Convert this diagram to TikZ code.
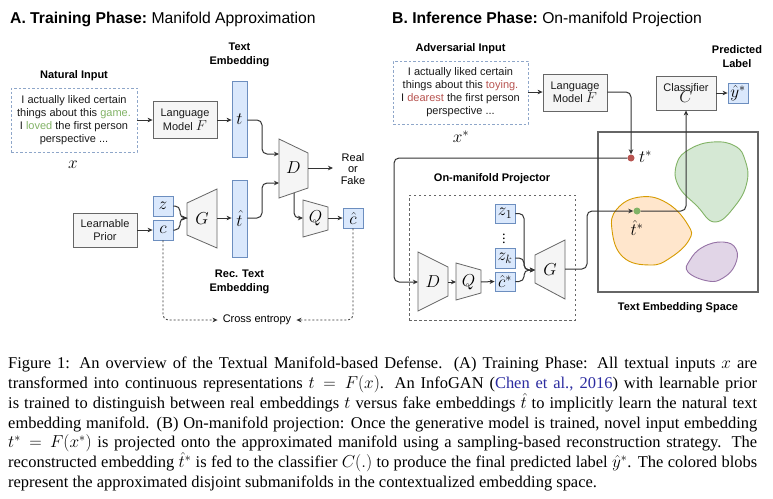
\documentclass[tikz,border=0pt]{standalone}
\usepackage{fontspec}
\setmainfont{Liberation Serif}
\newfontfamily\arialf{Liberation Sans}
\usetikzlibrary{arrows.meta}
\definecolor{grayd}{HTML}{666666}
\definecolor{grayf}{HTML}{F5F5F5}
\definecolor{blued}{HTML}{6C8EBF}
\definecolor{bluef}{HTML}{DAE8FC}
\definecolor{linec}{HTML}{333333}
\definecolor{txtc}{HTML}{1A1A1A}
\definecolor{dashb}{HTML}{8EA6C9}
\definecolor{goodg}{HTML}{82B366}
\definecolor{badr}{HTML}{B85450}
\definecolor{grf}{HTML}{D5E8D4}
\definecolor{orf}{HTML}{FFE6CC}
\definecolor{ord}{HTML}{D79B00}
\definecolor{puf}{HTML}{E1D5E7}
\definecolor{pud}{HTML}{9673A6}
\definecolor{citeblue}{HTML}{2B2BA0}
\begin{document}
\begin{tikzpicture}[x=1pt,y=-1pt,
  lbl/.style={font=\arialf\bfseries\fontsize{11}{14}\selectfont, align=center, inner sep=0},
  ttl/.style={font=\arialf\fontsize{15.7}{18}\selectfont, inner sep=0, anchor=west},
  txt/.style={font=\arialf\fontsize{11}{13}\selectfont, align=center, inner sep=0, text=txtc},
  inbox/.style={draw=dashb, line width=0.8pt, dash pattern=on 2.5pt off 2pt},
  gbox/.style={draw=grayd, fill=grayf, line width=0.8pt, inner sep=0, font=\arialf\fontsize{11}{13.5}\selectfont, align=center, text=txtc},
  bbox/.style={draw=blued, fill=bluef, line width=0.8pt, inner sep=0, font=\fontsize{17.28}{18}\selectfont},
  trap/.style={draw=grayd, fill=grayf, line width=0.8pt},
  mlbl/.style={inner sep=0, font=\fontsize{17.28}{18}\selectfont},
  conn/.style={draw=linec, line width=1pt, rounded corners=5pt},
  arr/.style={conn, -{Stealth[length=5pt,width=4.5pt,inset=1.5pt]}},
  darr/.style={draw=linec, line width=0.8pt, dash pattern=on 2pt off 2pt, rounded corners=5pt, -{Stealth[length=5pt,width=4.5pt,inset=1.5pt]}},
]
\useasboundingbox (0,0) rectangle (773,498);
\fill[white] (0,0) rectangle (773,498);

%%%%%%%%%%%%%%%% A
\node[ttl] (tA) at (10,19) {\bfseries A. Training Phase:\ \mdseries Manifold Approximation};
\node[lbl] (lTE) at (239.5,55) {Text\\Embedding};
\node[lbl] (lNI) at (74,76) {Natural Input};
\node[inbox, minimum width=126pt, minimum height=64pt, inner sep=0] (inA) at (74,120) {};
\node[txt] (inAt) at (74,120) {I actually liked certain\\things about this {\color{goodg}game.}\\I {\color{goodg}loved} the first person\\perspective ...};
\node[mlbl] (xA) at (73,165) {$x$};
\node[gbox, minimum width=64pt, minimum height=37pt] (LMA) at (185,120) {Language\\Model {\fontsize{14.4}{14}\selectfont$F$}};
\node[bbox, minimum width=15pt, minimum height=76pt] (tA) at (239.5,119) {$t$};
\node[bbox, minimum width=15pt, minimum height=77pt] (thA) at (239.5,218.5) {$\hat{t}$};
\node[lbl] (lRTE) at (239.5,282) {Rec. Text\\Embedding};
\node[gbox, minimum width=64pt, minimum height=34pt] (LP) at (105,230) {Learnable\\Prior};
\node[bbox, minimum width=20pt, minimum height=20pt] (zA) at (163,206) {$z$};
\node[bbox, minimum width=20pt, minimum height=20pt] (cA) at (163,230) {$c$};
\node[bbox, minimum width=20pt, minimum height=20pt] (chA) at (353,218) {$\hat{c}$};
% trapezoids
\draw[trap] (279,139) -- (308,153) -- (308,188) -- (279,198) -- cycle;
\node[mlbl] (DA) at (293.5,168) {$D$};
\draw[trap] (303,200) -- (328,207) -- (328,230) -- (303,237) -- cycle;
\node[mlbl] (QA) at (315.5,218.5) {$Q$};
\draw[trap] (187,203) -- (217,189) -- (217,248) -- (187,235) -- cycle;
\node[mlbl] (GA) at (202,218.5) {$G$};
\coordinate (DAin1) at (279,154);
\coordinate (DAin2) at (279,183);
\coordinate (DAout) at (308,168);
\coordinate (DAbot) at (294,193);
\coordinate (QAin) at (303,218);
\coordinate (QAout) at (328,218);
\coordinate (GAin) at (187,218);
\coordinate (GAout) at (217,218);
\node[txt, text=black, font=\arialf\fontsize{11}{11.3}\selectfont] (RF) at (353,169) {Real\\or\\Fake};
\node[txt, text=black, inner xsep=5pt] (CE) at (257,320) {Cross entropy};
% connectors
\draw[arr] (inA.east) -- (LMA.west);
\draw[arr] (LMA.east) -- (LMA.east -| tA.west);
\draw[arr] (LMA.east -| tA.east) -- (262,120) -- (262,154) -- (DAin1);
\draw[arr] (GAout -| thA.east) -- (262,218) -- (262,183) -- (DAin2);
\draw[arr] (GAout) -- (GAout -| thA.west);
\draw[arr] (DAout) -- (333,168);
\draw[arr] (DAbot) -- (294,218) -- (QAin);
\draw[arr] (QAout) -- (chA.west);
\draw[arr] (LP.east) -- (cA.west);
\draw[arr] (zA.east) -- (180,206) -- (180,218) -- (GAin);
\draw[arr] (cA.east) -- (180,230) -- (180,218) -- (GAin);
\draw[darr] (cA.south) -- (163,320) -- (CE.west);
\draw[darr] (chA.south) -- (353,320) -- (CE.east);

%%%%%%%%%%%%%%%% B
\node[ttl] (tB) at (392,19) {\bfseries B. Inference Phase:\ \mdseries On-manifold Projection};
\node[lbl] (lAI) at (460.5,49) {Adversarial Input};
\node[inbox, minimum width=135pt, minimum height=63pt, inner sep=0] (inB) at (460.5,92.5) {};
\node[txt] (inBt) at (460.5,92.5) {I actually liked certain\\things about this {\color{badr}toying.}\\I {\color{badr}dearest} the first person\\perspective ...};
\node[mlbl] (xB) at (461,137) {$x^*$};
\node[gbox, minimum width=64pt, minimum height=37pt] (LMB) at (575,92.5) {Language\\Model {\fontsize{14.4}{14}\selectfont$F$}};
\node[gbox, minimum width=60pt, minimum height=34pt] (Cls) at (686,93) {Classifier\\[-2pt]{\fontsize{17.28}{14}\selectfont$C$}};
\node[bbox, minimum width=20pt, minimum height=20pt] (yh) at (738,93) {$\hat{y}^*$};
\node[lbl] (lPL) at (737,57) {Predicted\\Label};
\node[draw=grayd, line width=1.4pt, minimum width=160pt, minimum height=160pt, inner sep=0] (ES) at (678,212) {};
\node[lbl] (lES) at (678,308) {Text Embedding Space};
% blobs
\draw[fill=grf, draw=goodg, line width=0.9pt] plot[smooth cycle, tension=0.75] coordinates {(713,142) (735,146) (745,160) (747,182) (735,206) (715,222) (697,206) (678,185) (677,163) (690,149)};
\draw[fill=orf, draw=ord, line width=0.9pt] plot[smooth cycle, tension=0.75] coordinates {(640,197) (667,203) (688,225) (689,240) (670,258) (650,265) (623,257) (612,230) (617,209)};
\draw[fill=puf, draw=pud, line width=0.9pt] plot[smooth cycle, tension=0.75] coordinates {(723,242) (736,249) (735,265) (723,278) (708,281) (688,272) (690,260) (703,247)};
% projector
\node[lbl] (lOP) at (492,179) {On-manifold Projector};
\node[draw=grayd, line width=0.9pt, dash pattern=on 2.5pt off 2.5pt, minimum width=166pt, minimum height=125pt, inner sep=0] (PB) at (492,257.5) {};
\draw[trap] (418,252) -- (448,267) -- (448,296) -- (418,311) -- cycle;
\node[mlbl] (DB) at (433,282) {$D$};
\draw[trap] (456,263) -- (481,270) -- (481,293) -- (456,300) -- cycle;
\node[mlbl] (QB) at (468.5,282) {$Q$};
\draw[trap] (535,255) -- (565,240) -- (565,299) -- (535,283) -- cycle;
\node[mlbl] (GB) at (550,269.5) {$G$};
\coordinate (DBin) at (418,282);
\coordinate (DBout) at (448,282);
\coordinate (QBin) at (456,282);
\coordinate (QBout) at (481,282);
\coordinate (GBin) at (535,270);
\coordinate (GBout) at (565,269);
\node[bbox, minimum width=20pt, minimum height=19pt] (z1) at (505,213.5) {$z_1$};
\node[bbox, minimum width=20pt, minimum height=20pt] (zk) at (505,258) {$z_k$};
\node[bbox, minimum width=20pt, minimum height=19pt] (chB) at (505,281.5) {$\hat{c}^*$};
\node[inner sep=0, font=\fontsize{14.4}{14}\selectfont] (dots) at (504,236) {$\vdots$};
% points
\node[circle, fill=badr, inner sep=0, minimum size=7pt] (ts) at (631,158) {};
\node[mlbl, anchor=west] (tsl) at (639,157) {$t^*$};
\node[circle, fill=goodg, inner sep=0, minimum size=7pt] (ths) at (637,211) {};
\node[mlbl] (thsl) at (637,228) {$\hat{t}^*$};
% connectors
\draw[arr] (inB.east |- 0,92) -- (LMB.west |- 0,92);
\draw[arr] (LMB.east |- 0,92) -- (631,92) -- (ts.north);
\draw[arr] (Cls.east) -- (yh.west);
\draw[arr] (ts.west) -- (394,158) -- (394,282) -- (DBin);
\draw[arr] (DBout) -- (QBin);
\draw[arr] (QBout) -- (chB.west);
\draw[arr] (z1.east) -- (524,213.5) -- (524,270) -- (GBin);
\draw[arr] (zk.east) -- (524,258) -- (524,270) -- (GBin);
\draw[arr] (chB.east) -- (524,281.5) -- (524,270) -- (GBin);
\draw[arr] (GBout) -- (587,269) -- (587,211) -- (ths.west);
\draw[arr] (ths.east) -- (686,211) -- (Cls.south);

%%%%%%%%%%%%%%%% caption
\node[anchor=north west, inner sep=0, text width=749pt, align=justify, font=\fontsize{16.46}{19.75}\selectfont] (cap) at (8,357) {Figure 1: An overview of the Textual Manifold-based Defense. (A) Training Phase: All textual inputs $x$ are\linebreak transformed into continuous representations $t = F(x)$. An InfoGAN ({\color{citeblue}Chen et al., 2016}) with learnable prior\linebreak is trained to distinguish between real embeddings $t$ versus fake embeddings $\hat{t}$ to implicitly learn the natural text\linebreak embedding manifold. (B) On-manifold projection: Once the generative model is trained, novel input embedding\linebreak $t^* = F(x^*)$ is projected onto the approximated manifold using a sampling-based reconstruction strategy. The\linebreak reconstructed embedding $\hat{t}^*$ is fed to the classifier $C(.)$ to produce the final predicted label $\hat{y}^*$. The colored blobs\linebreak represent the approximated disjoint submanifolds in the contextualized embedding space.};
\end{tikzpicture}
\end{document}
